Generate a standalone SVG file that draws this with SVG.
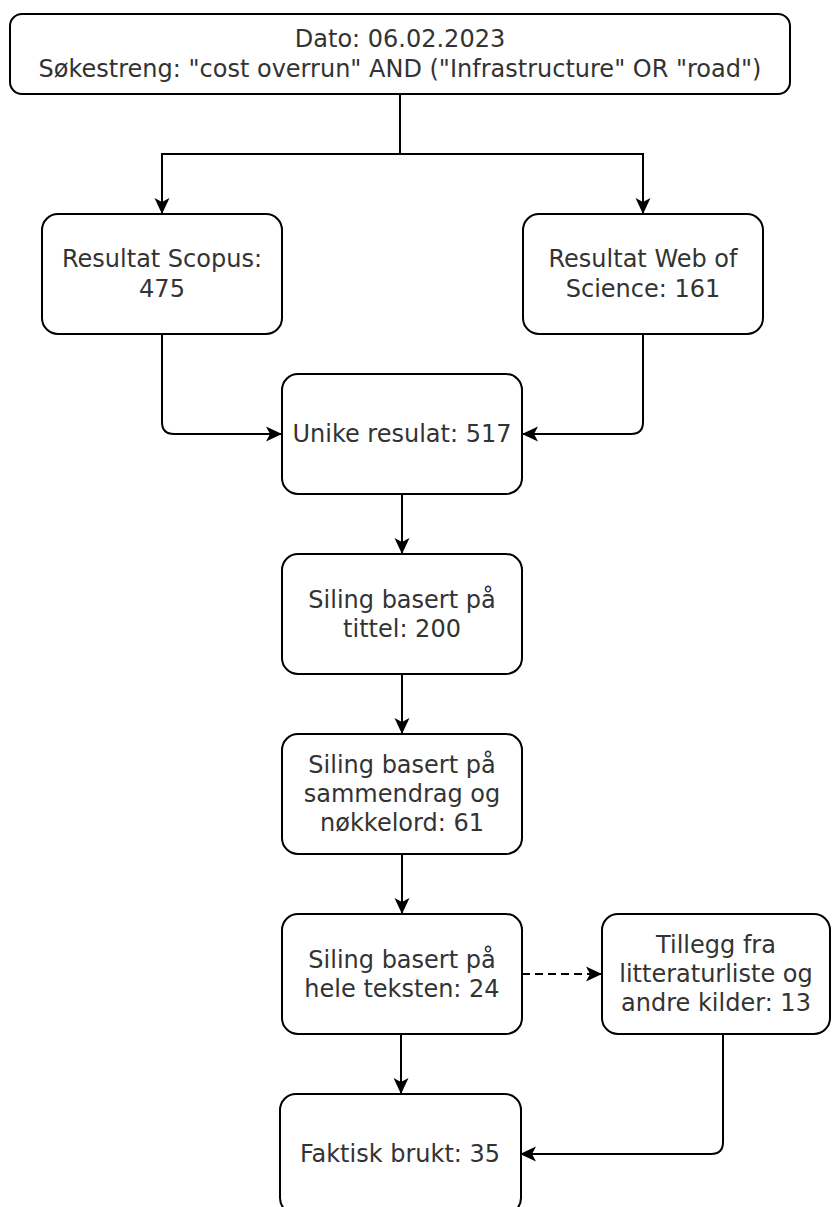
<svg xmlns="http://www.w3.org/2000/svg" width="832" height="1207" viewBox="0 0 832 1207">
  <style>
    .box { fill: #ffffff; stroke: #000000; stroke-width: 2; }
    .lbl { font-family: "DejaVu Sans", Verdana, sans-serif; font-size: 24px; fill: #333333; text-anchor: middle; }
    .edge { fill: none; stroke: #000000; stroke-width: 2; }
    .dash { stroke-dasharray: 8 5; }
  </style>
  <defs>
    <marker id="arrow" markerUnits="userSpaceOnUse" markerWidth="16" markerHeight="16" viewBox="0 0 16 16" refX="15" refY="8" orient="auto">
      <path d="M16,8 L0,0.5 L4,8 L0,15.5 Z" fill="#000000"/>
    </marker>
  </defs>
  <rect width="832" height="1207" fill="#ffffff"/>

  <g id="connectors">
    <path class="edge" d="M400,94 V154 H162 V213" marker-end="url(#arrow)"/>
    <path class="edge" d="M400,154 H643 V213" marker-end="url(#arrow)"/>
    <path class="edge" d="M162,334 V422 Q162,434 174,434 H281" marker-end="url(#arrow)"/>
    <path class="edge" d="M643,334 V422 Q643,434 631,434 H523" marker-end="url(#arrow)"/>
    <path class="edge" d="M402,494 V553" marker-end="url(#arrow)"/>
    <path class="edge" d="M402,674 V733" marker-end="url(#arrow)"/>
    <path class="edge" d="M402,854 V913" marker-end="url(#arrow)"/>
    <path class="edge" d="M401,1034 V1093" marker-end="url(#arrow)"/>
    <path class="edge dash" d="M522,974 H601" marker-end="url(#arrow)"/>
    <path class="edge" d="M723,1034 V1142 Q723,1154 711,1154 H521" marker-end="url(#arrow)"/>
  </g>

  <g id="node-top">
    <rect class="box" x="10" y="14" width="780" height="80" rx="12" ry="12"/>
    <text class="lbl" x="400" y="47">Dato: 06.02.2023</text>
    <text class="lbl" x="400" y="77">Søkestreng: "cost overrun" AND ("Infrastructure" OR "road")</text>
  </g>

  <g id="node-scopus">
    <rect class="box" x="42" y="214" width="240" height="120" rx="16" ry="16"/>
    <text class="lbl" x="162" y="267">Resultat Scopus:</text>
    <text class="lbl" x="162" y="297">475</text>
  </g>

  <g id="node-wos">
    <rect class="box" x="523" y="214" width="240" height="120" rx="16" ry="16"/>
    <text class="lbl" x="643" y="267">Resultat Web of</text>
    <text class="lbl" x="643" y="297">Science: 161</text>
  </g>

  <g id="node-unike">
    <rect class="box" x="282" y="374" width="240" height="120" rx="16" ry="16"/>
    <text class="lbl" x="402" y="442">Unike resulat: 517</text>
  </g>

  <g id="node-tittel">
    <rect class="box" x="282" y="554" width="240" height="120" rx="16" ry="16"/>
    <text class="lbl" x="402" y="608">Siling basert på</text>
    <text class="lbl" x="402" y="637">tittel: 200</text>
  </g>

  <g id="node-sammendrag">
    <rect class="box" x="282" y="734" width="240" height="120" rx="16" ry="16"/>
    <text class="lbl" x="402" y="773">Siling basert på</text>
    <text class="lbl" x="402" y="802">sammendrag og</text>
    <text class="lbl" x="402" y="831">nøkkelord: 61</text>
  </g>

  <g id="node-hele">
    <rect class="box" x="282" y="914" width="240" height="120" rx="16" ry="16"/>
    <text class="lbl" x="402" y="968">Siling basert på</text>
    <text class="lbl" x="402" y="997">hele teksten: 24</text>
  </g>

  <g id="node-tillegg">
    <rect class="box" x="602" y="914" width="228" height="120" rx="16" ry="16"/>
    <text class="lbl" x="716" y="953">Tillegg fra</text>
    <text class="lbl" x="716" y="982">litteraturliste og</text>
    <text class="lbl" x="716" y="1011">andre kilder: 13</text>
  </g>

  <g id="node-faktisk">
    <rect class="box" x="280" y="1094" width="241" height="120" rx="16" ry="16"/>
    <text class="lbl" x="400" y="1162">Faktisk brukt: 35</text>
  </g>
</svg>
